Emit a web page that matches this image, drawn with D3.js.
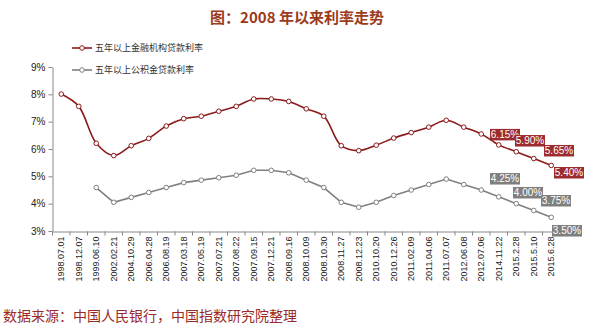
<!DOCTYPE html>
<html><head><meta charset="utf-8">
<script src="https://cdn.jsdelivr.net/npm/d3@7/dist/d3.min.js"></script>
<style>body{margin:0;background:#fff}svg{display:block}</style>
</head><body><svg id="c" width="595" height="329"></svg>
<script>
const categories = ["1998.07.01","1998.12.07","1999.06.10","2002.02.21","2004.10.29","2006.04.28","2006.08.19","2007.03.18","2007.05.19","2007.07.21","2007.08.22","2007.09.15","2007.12.21","2008.09.16","2008.10.09","2008.10.30","2008.11.27","2008.12.23","2010.10.20","2010.12.26","2011.02.09","2011.04.06","2011.07.07","2012.06.08","2012.07.06","2014.11.22","2015.2.28","2015.5.10","2015.6.28"];
const bankRate = [8.01,7.56,6.21,5.76,6.12,6.39,6.84,7.11,7.20,7.38,7.56,7.83,7.83,7.74,7.47,7.20,6.12,5.94,6.14,6.40,6.60,6.80,7.05,6.80,6.55,6.15,5.90,5.65,5.40];
const fundRate = [null,null,4.59,4.05,4.23,4.41,4.59,4.77,4.86,4.95,5.04,5.22,5.22,5.13,4.86,4.59,4.05,3.87,4.05,4.30,4.50,4.70,4.90,4.70,4.50,4.25,4.00,3.75,3.50];
const yTicks = [3,4,5,6,7,8,9];
const labelledIndex = [25,26,27,28];
const seriesNames = ["五年以上金融机构贷款利率","五年以上公积金贷款利率"];
const title = "图：2008 年以来利率走势";
const source = "数据来源：中国人民银行，中国指数研究院整理";

const RED = "#8b1a1a", GRAY = "#808080";
const svg = d3.select("#c");
const font = "Arial, 'Liberation Sans', 'Noto Sans CJK SC', sans-serif";
const cjk = "'Noto Sans CJK SC', sans-serif";

const x = d3.scaleBand().domain(categories).range([52.5, 52.5 + 29*17.5]);
const y = d3.scaleLinear().domain([3,9]).range([231, 67]);
const cx = d => x(d) + x.bandwidth()/2;

// title
svg.append("text").attr("x",297).attr("y",23).attr("text-anchor","middle")
  .attr("font-family",cjk).attr("font-size",15).attr("font-weight","bold")
  .attr("fill","#9c3a1c").text(title);

// y axis
const ya = svg.append("g").attr("transform","translate(52.5,0)")
  .call(d3.axisLeft(y).tickValues(yTicks).tickFormat(d=>d+"%").tickSize(4).tickSizeOuter(0));
ya.select(".domain").attr("stroke","#888");
ya.selectAll("line").attr("stroke","#888");
ya.selectAll("text").attr("font-family",font).attr("font-size",10).attr("fill","#222").attr("x",-7);

// x axis
const xa = svg.append("g").attr("transform","translate(0,231.5)")
  .call(d3.axisBottom(x).tickSize(0).tickSizeOuter(0));
xa.select(".domain").attr("stroke","#888");
xa.selectAll(".tick text").attr("font-family",font).attr("font-size",9).attr("fill","#222")
  .attr("transform","rotate(-90)").attr("text-anchor","end").attr("x",-5).attr("y",0).attr("dy","0.35em");
const bounds = categories.map(c=>x(c)).concat([x(categories[categories.length-1])+x.bandwidth()]);
svg.append("g").selectAll("line").data(bounds).join("line")
  .attr("x1",d=>d).attr("x2",d=>d).attr("y1",231.5).attr("y2",235.5).attr("stroke","#888");

// lines
const lineRed = d3.line().defined(d=>d.v!=null).x(d=>cx(d.c)).y(d=>y(d.v)).curve(d3.curveCatmullRom.alpha(0.5));
const lineGray = d3.line().defined(d=>d.v!=null).x(d=>cx(d.c)).y(d=>y(d.v));
const bankData = categories.map((c,i)=>({c,v:bankRate[i]}));
const fundData = categories.map((c,i)=>({c,v:fundRate[i]}));

function drawSeries(data, gen, color){
  svg.append("path").datum(data).attr("d",gen).attr("fill","none").attr("stroke",color).attr("stroke-width",1.6);
  svg.append("g").selectAll("circle").data(data.filter(d=>d.v!=null)).join("circle")
    .attr("cx",d=>cx(d.c)).attr("cy",d=>y(d.v)).attr("r",2.3)
    .attr("fill","#fff").attr("stroke",color).attr("stroke-width",1);
}
drawSeries(bankData, lineRed, RED);
drawSeries(fundData, lineGray, GRAY);

// data labels (offsets of box top-left from the point)
const bankOffsets = [[-8.75,-16],[-1.25,-16.7],[10.25,-13.6],[2.75,1.6]];
const fundOffsets = [[-8.75,-23.8],[-3.25,-16.7],[7.25,-15.5],[0.75,7.7]];
function drawLabels(vals, offsets, fill){
  const g = svg.append("g");
  labelledIndex.forEach((idx,k)=>{
    const c = categories[idx];
    const bx = cx(c) + offsets[k][0], by = y(vals[idx]) + offsets[k][1];
    g.append("rect").attr("x",bx).attr("y",by).attr("width",30).attr("height",11.5).attr("fill",fill);
    g.append("text").attr("x",bx+15).attr("y",by+5.9).attr("dy","0.35em").attr("text-anchor","middle")
      .attr("font-family",font).attr("font-size",10).attr("fill","#fff").text(vals[idx].toFixed(2)+"%");
  });
}
drawLabels(bankRate, bankOffsets, "#9b2b2e");
drawLabels(fundRate, fundOffsets, "#7f7f7f");

// legend
const leg = svg.append("g");
[[RED,48],[GRAY,70]].forEach((s,i)=>{
  leg.append("line").attr("x1",72).attr("x2",92).attr("y1",s[1]).attr("y2",s[1]).attr("stroke",s[0]).attr("stroke-width",1.6);
  leg.append("circle").attr("cx",82).attr("cy",s[1]).attr("r",2.3).attr("fill","#fff").attr("stroke",s[0]);
  leg.append("text").attr("x",95).attr("y",s[1]).attr("dy","0.35em").attr("font-family",cjk)
    .attr("font-size",9).attr("fill","#333").text(seriesNames[i]);
});

// source
svg.append("text").attr("x",3).attr("y",321).attr("font-family",cjk).attr("font-size",14)
  .attr("fill","#9a2a2a").text(source);
</script></body></html>
